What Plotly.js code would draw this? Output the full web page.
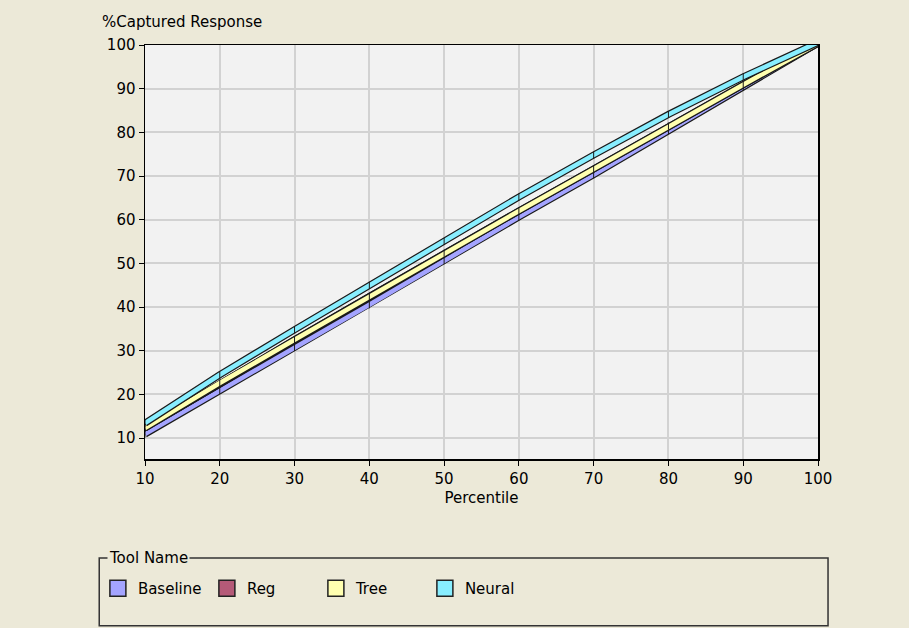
<!DOCTYPE html>
<html>
<head>
<meta charset="utf-8">
<script src="https://cdn.plot.ly/plotly-3.0.1.min.js"></script>
<style>
html,body{margin:0;padding:0;background:#ECE9D8;}
#chart{width:909px;height:628px;}
</style>
</head>
<body>
<div id="chart"></div>
<script>
var percentile = [10, 20, 30, 40, 50, 60, 70, 80, 90, 100];
var baseline   = [10.9, 20.9, 30.7, 40.5, 50.6, 60.6, 70.3, 80.4, 90.3, 100.4];
var reg        = [12.3, 22.6, 32.5, 42.4, 52.3, 62.0, 71.6, 81.4, 90.9, 100.4];
var tree       = [12.3, 22.6, 32.5, 42.4, 52.3, 62.0, 71.6, 81.4, 90.9, 100.4];
var neural     = [13.4, 24.5, 34.8, 45.0, 55.0, 65.2, 74.8, 84.1, 92.7, 100.6];
var seriesNames = ["Baseline", "Reg", "Tree", "Neural"];
var seriesColors = ["#A4A4FF", "#B55A78", "#FFFFB0", "#88EEFF"];
var seriesData = [baseline, reg, tree, neural];
var xTicks = [10, 20, 30, 40, 50, 60, 70, 80, 90, 100];
var yTicks = [10, 20, 30, 40, 50, 60, 70, 80, 90, 100];

var FONT = "DejaVu Sans, Verdana, sans-serif";
var traces = [];
seriesData.forEach(function (ys, i) {
  traces.push({
    x: percentile, y: ys, type: "scatter", mode: "lines",
    line: {color: "#1a1a1a", width: 7}, showlegend: false, hoverinfo: "skip"
  });
  traces.push({
    x: percentile, y: ys, type: "scatter", mode: "lines+markers",
    line: {color: seriesColors[i], width: 4.6},
    marker: {symbol: "line-ns-open", size: 5, color: "#1a1a1a", line: {color: "#1a1a1a", width: 1}},
    showlegend: false, name: seriesNames[i]
  });
});
seriesNames.forEach(function (n, i) {
  traces.push({
    x: [null], y: [null], type: "scatter", mode: "markers", name: n,
    marker: {symbol: "square", size: 16, color: seriesColors[i], line: {color: "#222", width: 1.5}},
    showlegend: true
  });
});

var layout = {
  width: 909, height: 628,
  paper_bgcolor: "#ECE9D8", plot_bgcolor: "#F2F2F2",
  margin: {l: 145, r: 91, t: 45, b: 169},
  font: {family: FONT, size: 15, color: "#000"},
  xaxis: {
    range: [10, 100], tickvals: xTicks, ticktext: xTicks.map(String),
    showgrid: true, gridcolor: "#D2D2D2", gridwidth: 2,
    showline: true, linecolor: "#000", linewidth: 1.5, mirror: true,
    ticks: "outside", ticklen: 5, tickcolor: "#000", zeroline: false,
    title: {text: "Percentile", font: {family: FONT, size: 15}, standoff: 6},
    tickfont: {family: FONT, size: 15}
  },
  yaxis: {
    range: [5.2, 100], tickvals: yTicks, ticktext: yTicks.map(String),
    showgrid: true, gridcolor: "#D2D2D2", gridwidth: 2,
    showline: true, linecolor: "#000", linewidth: 1.5, mirror: true,
    ticks: "outside", ticklen: 5, tickcolor: "#000", zeroline: false,
    tickfont: {family: FONT, size: 15}
  },
  showlegend: true,
  legend: {
    orientation: "h", x: -0.07, xanchor: "left", y: -0.273, yanchor: "top",
    bgcolor: "rgba(0,0,0,0)", borderwidth: 0,
    entrywidth: 64, entrywidthmode: "pixels",
    font: {family: FONT, size: 15, color: "#000"}, itemsizing: "trace",
    itemclick: false, itemdoubleclick: false
  },
  shapes: [{
    type: "rect", xref: "paper", yref: "paper",
    x0: -0.068, x1: 1.0149, y0: -0.403, y1: -0.239,
    line: {color: "#333", width: 1.5}, fillcolor: "rgba(0,0,0,0)", layer: "above"
  }],
  annotations: [
    {text: "%Captured Response", xref: "paper", yref: "paper", x: -0.067, y: 1.0556,
     xanchor: "left", yanchor: "middle", showarrow: false, font: {family: FONT, size: 15}},
    {text: "Tool Name", xref: "paper", yref: "paper", x: -0.057, y: -0.239,
     xanchor: "left", yanchor: "middle", showarrow: false, bgcolor: "#ECE9D8",
     borderpad: 1, font: {family: FONT, size: 15}}
  ]
};

Plotly.newPlot("chart", traces, layout, {displayModeBar: false, staticPlot: true});
</script>
</body>
</html>
